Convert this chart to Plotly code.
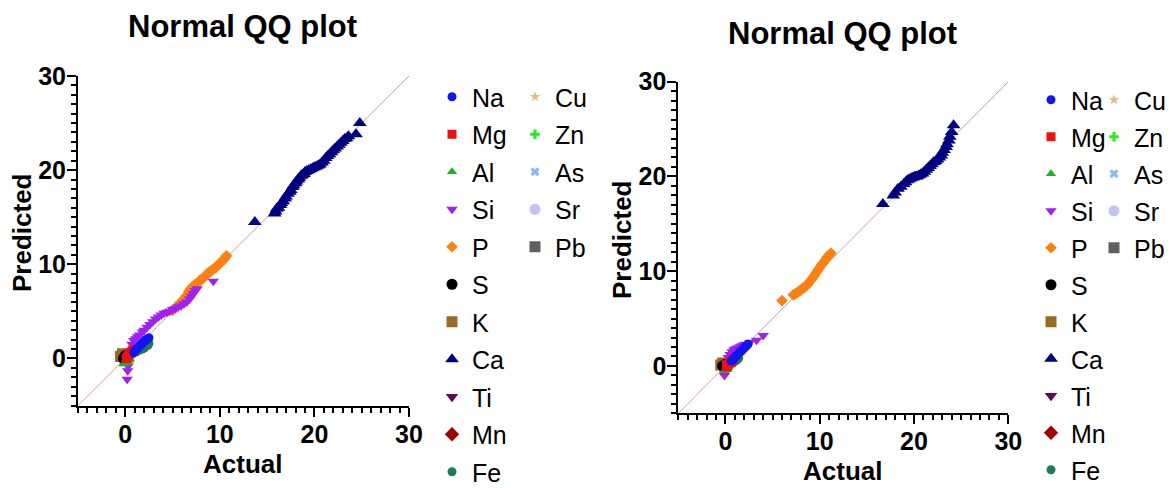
import plotly.graph_objects as go

# ---------------- element styling ----------------
ELEMENTS = ["Na", "Mg", "Al", "Si", "P", "S", "K", "Ca", "Ti", "Mn", "Fe",
            "Cu", "Zn", "As", "Sr", "Pb"]
COLORS = ["#1414ee", "#ee1111", "#22b022", "#a020f0", "#ff8010", "#000000",
          "#9a6a25", "#000080", "#5c0a5c", "#a00000", "#1f7a5a",
          "#e8b888", "#22ee22", "#88bbee", "#c4c4f4", "#606060"]
SYMBOLS = ["circle", "square", "triangle-up", "triangle-down", "diamond",
           "circle", "square", "triangle-up", "triangle-down", "diamond",
           "circle", "star", "cross", "x", "circle", "square"]
SIZES = [9, 9, 9, 10, 9, 11, 11, 12, 11, 11, 9, 8, 8, 8, 11, 11]

AXIS_MIN, AXIS_MAX = -5, 30
TICK_STEP = 10
TITLE_TEXT = "Normal QQ plot"
X_TITLE = "Actual"
Y_TITLE = "Predicted"

# ---------------- panel 1 (left) ----------------
na_act_1 = [0.9, 1.0, 1.1, 1.2, 1.3, 1.4, 1.5, 1.6, 1.7, 1.8, 1.9, 2.0, 2.1, 2.2, 2.3, 2.4, 2.5]
na_pred_1 = [0.6, 0.8, 0.9, 1.0, 1.1, 1.2, 1.3, 1.4, 1.5, 1.6, 1.7, 1.8, 1.9, 2.0, 2.0, 2.1, 2.2]
mg_act_1 = [0.1, 0.2, 0.3, 0.4, 0.5, 0.6, 0.7, 0.8]
mg_pred_1 = [0.0, 0.1, 0.3, 0.4, 0.5, 0.6, 0.8, 0.9]
al_act_1 = [-0.2, 0.0, 0.1, 0.2, 0.3, 0.4, 0.5]
al_pred_1 = [-0.6, -0.5, -0.4, -0.3, -0.4, -0.2, -0.1]
si_act_1 = [0.2, 0.25, 0.3, 0.5, 0.7, 0.9, 1.1, 1.3, 1.5, 1.8, 2.0, 2.3, 2.6, 2.9, 3.2, 3.5,
            3.8, 4.1, 4.4, 4.7, 5.0, 5.3, 5.6, 5.9, 6.2, 6.5, 6.8, 7.0, 7.2, 7.4, 7.6, 9.3]
si_pred_1 = [-2.2, -1.3, -0.8, 0.8, 1.5, 1.9, 2.1, 2.3, 2.5, 2.8, 3.0, 3.3, 3.6, 3.9, 4.2, 4.4,
             4.6, 4.8, 4.9, 5.0, 5.2, 5.3, 5.5, 5.6, 5.8, 6.0, 6.3, 6.6, 6.9, 7.2, 7.4, 8.2]
p_act_1 = [5.0, 5.4, 5.8, 6.1, 6.4, 6.7, 6.9, 7.1, 7.3, 7.5, 7.7, 7.9, 8.1, 8.3, 8.5, 8.7,
           8.9, 9.1, 9.3, 9.5, 9.7, 9.9, 10.1, 10.3, 10.5, 10.7]
p_pred_1 = [5.1, 5.5, 5.9, 6.2, 6.6, 7.1, 7.4, 7.6, 7.8, 7.9, 8.1, 8.3, 8.4, 8.6, 8.8, 9.0,
            9.2, 9.3, 9.5, 9.6, 9.8, 10.0, 10.2, 10.4, 10.6, 10.9]
s_act_1 = [-0.2, 0.0, 0.1]
s_pred_1 = [0.0, 0.3, 0.1]
k_act_1 = [-0.5, -0.3, -0.2, 0.0]
k_pred_1 = [0.2, 0.5, 0.4, 0.1]
ca_act_1 = [13.7, 15.8, 15.9, 16.0, 16.2, 16.4, 16.5, 16.7, 16.9, 17.0, 17.2, 17.4, 17.5, 17.7,
            17.8, 18.0, 18.1, 18.3, 18.4, 18.6, 18.7, 18.9, 19.0, 19.2, 19.4, 19.6, 19.8, 20.0,
            20.2, 20.4, 20.6, 20.8, 21.0, 21.2, 21.4, 21.6, 21.8, 22.0, 22.2, 22.4, 22.6, 22.8,
            23.0, 23.2, 23.4, 23.6, 24.4, 24.8]
ca_pred_1 = [14.5, 15.4, 15.6, 15.9, 16.0, 16.3, 16.5, 16.7, 17.0, 17.2, 17.5, 17.7, 17.9, 18.2,
             18.4, 18.6, 18.8, 19.0, 19.2, 19.4, 19.5, 19.6, 19.8, 19.9, 20.0, 20.1, 20.2, 20.3,
             20.4, 20.5, 20.6, 20.8, 21.0, 21.3, 21.5, 21.7, 21.9, 22.1, 22.3, 22.5, 22.7, 22.9,
             23.1, 23.3, 23.4, 23.6, 23.8, 25.0]
ti_act_1 = [0.0, 0.1]
ti_pred_1 = [0.1, 0.0]
mn_act_1 = [0.1, 0.0]
mn_pred_1 = [0.0, 0.1]
fe_act_1 = [1.2, 1.5, 1.8, 2.0, 2.2, 2.4, 2.5]
fe_pred_1 = [0.7, 0.9, 1.0, 1.1, 1.3, 1.4, 1.6]
cu_act_1 = [0.0, 0.05]
cu_pred_1 = [0.0, 0.05]
zn_act_1 = [0.05, 0.1]
zn_pred_1 = [0.05, 0.0]
as_act_1 = [0.0, 0.05]
as_pred_1 = [0.05, 0.0]
sr_act_1 = [0.0, 0.1]
sr_pred_1 = [0.1, 0.05]
pb_act_1 = [0.0, 0.05]
pb_pred_1 = [0.0, 0.05]

# ---------------- panel 2 (right) ----------------
na_act_2 = [0.6, 0.8, 0.9, 1.0, 1.1, 1.2, 1.3, 1.4, 1.5, 1.6, 1.7, 1.8, 1.9, 2.0, 2.1, 2.2, 2.3, 2.4]
na_pred_2 = [0.5, 0.6, 0.8, 0.9, 1.0, 1.1, 1.2, 1.3, 1.4, 1.5, 1.6, 1.7, 1.8, 1.9, 2.0, 2.1, 2.2, 2.3]
mg_act_2 = [0.1, 0.2, 0.3, 0.4, 0.5, 0.6, 0.7, 0.8]
mg_pred_2 = [-0.1, 0.1, 0.2, 0.3, 0.4, 0.5, 0.6, 0.7]
al_act_2 = [-0.1, 0.0, 0.1, 0.2, 0.3]
al_pred_2 = [-0.5, -0.4, -0.3, -0.4, -0.2]
si_act_2 = [-0.1, 0.1, 0.3, 0.5, 0.7, 0.9, 1.1, 1.3, 1.5, 1.7, 1.9, 2.1, 2.6, 3.3, 4.0]
si_pred_2 = [-1.0, 0.3, 0.9, 1.2, 1.5, 1.7, 1.8, 1.9, 2.0, 2.1, 2.2, 2.3, 2.5, 2.7, 3.2]
p_act_2 = [6.0, 7.2, 7.4, 7.6, 7.8, 8.0, 8.2, 8.4, 8.6, 8.8, 9.0, 9.2, 9.4, 9.6, 9.8, 10.0,
           10.2, 10.4, 10.6, 10.8, 11.0, 11.2]
p_pred_2 = [6.9, 7.5, 7.6, 7.7, 7.9, 8.0, 8.2, 8.3, 8.5, 8.7, 9.0, 9.2, 9.5, 9.8, 10.1, 10.4,
            10.7, 10.9, 11.2, 11.5, 11.7, 11.9]
s_act_2 = [-0.3, 0.0]
s_pred_2 = [0.0, 0.2]
k_act_2 = [-0.5, -0.3, -0.1]
k_pred_2 = [0.1, 0.3, 0.0]
ca_act_2 = [16.7, 17.8, 18.0, 18.3, 18.6, 18.9, 19.1, 19.3, 19.5, 19.7, 19.9, 20.1, 20.3, 20.5,
            20.7, 20.9, 21.1, 21.3, 21.5, 21.7, 21.9, 22.1, 22.3, 22.5, 22.7, 22.9, 23.0, 23.2,
            23.4, 23.5, 23.7, 23.8, 24.0, 24.2]
ca_pred_2 = [17.1, 18.0, 18.3, 18.7, 18.9, 19.2, 19.4, 19.6, 19.7, 19.8, 19.9, 20.0, 20.0, 20.1,
             20.2, 20.3, 20.5, 20.7, 20.9, 21.1, 21.3, 21.5, 21.6, 21.8, 22.0, 22.2, 22.5, 22.8,
             23.1, 23.4, 23.8, 24.2, 24.7, 25.4]
ti_act_2 = [0.0, 0.1]
ti_pred_2 = [0.1, 0.0]
mn_act_2 = [0.1, 0.0]
mn_pred_2 = [0.0, 0.1]
fe_act_2 = [0.8, 1.0, 1.2, 1.4]
fe_pred_2 = [0.3, 0.5, 0.6, 0.8]
cu_act_2 = [0.0, 0.05]
cu_pred_2 = [0.0, 0.05]
zn_act_2 = [0.05, 0.1]
zn_pred_2 = [0.05, 0.0]
as_act_2 = [0.0, 0.05]
as_pred_2 = [0.05, 0.0]
sr_act_2 = [0.0, 0.1]
sr_pred_2 = [0.1, 0.05]
pb_act_2 = [0.0, 0.05]
pb_pred_2 = [0.0, 0.05]

PANEL1 = [(na_act_1, na_pred_1), (mg_act_1, mg_pred_1), (al_act_1, al_pred_1),
          (si_act_1, si_pred_1), (p_act_1, p_pred_1), (s_act_1, s_pred_1),
          (k_act_1, k_pred_1), (ca_act_1, ca_pred_1), (ti_act_1, ti_pred_1),
          (mn_act_1, mn_pred_1), (fe_act_1, fe_pred_1), (cu_act_1, cu_pred_1),
          (zn_act_1, zn_pred_1), (as_act_1, as_pred_1), (sr_act_1, sr_pred_1),
          (pb_act_1, pb_pred_1)]
PANEL2 = [(na_act_2, na_pred_2), (mg_act_2, mg_pred_2), (al_act_2, al_pred_2),
          (si_act_2, si_pred_2), (p_act_2, p_pred_2), (s_act_2, s_pred_2),
          (k_act_2, k_pred_2), (ca_act_2, ca_pred_2), (ti_act_2, ti_pred_2),
          (mn_act_2, mn_pred_2), (fe_act_2, fe_pred_2), (cu_act_2, cu_pred_2),
          (zn_act_2, zn_pred_2), (as_act_2, as_pred_2), (sr_act_2, sr_pred_2),
          (pb_act_2, pb_pred_2)]

FONT = "Liberation Sans, Arial, Helvetica, sans-serif"
W, H = 1175, 488

fig = go.Figure()

panels = [
    dict(data=PANEL1, xa="x", ya="y", legends=("legend", "legend2")),
    dict(data=PANEL2, xa="x2", ya="y2", legends=("legend3", "legend4")),
]

for pi, pnl in enumerate(panels):
    # identity reference line
    fig.add_trace(go.Scatter(
        x=[AXIS_MIN, AXIS_MAX], y=[AXIS_MIN, AXIS_MAX], mode="lines",
        line=dict(color="#c48888", width=0.8), xaxis=pnl["xa"], yaxis=pnl["ya"],
        showlegend=False, hoverinfo="skip"))
    # draw in reverse so first elements lie on top
    for i in reversed(range(len(ELEMENTS))):
        act, pred = pnl["data"][i]
        fig.add_trace(go.Scatter(
            x=act, y=pred, mode="markers", name=ELEMENTS[i],
            marker=dict(symbol=SYMBOLS[i], color=COLORS[i], size=SIZES[i],
                        line=dict(width=0)),
            xaxis=pnl["xa"], yaxis=pnl["ya"],
            legend=pnl["legends"][0] if i < 11 else pnl["legends"][1],
            legendgroup=f"p{pi}-{ELEMENTS[i]}", legendrank=i + 1,
            showlegend=True))

def axis(domain, anchor):
    return dict(
        domain=domain, anchor=anchor, range=[AXIS_MIN, AXIS_MAX],
        tick0=0, dtick=TICK_STEP, ticks="outside", ticklen=9, tickwidth=2,
        tickcolor="black", showline=True, linewidth=2, linecolor="black",
        showgrid=False, zeroline=False, fixedrange=True, automargin=False,
        ticklabelstandoff=-4,
        tickfont=dict(family=FONT, size=25, color="black", weight="bold"),
        minor=dict(dtick=1, tick0=0, ticks="outside", ticklen=5, tickwidth=2,
                   tickcolor="black", showgrid=False))

def px_x(p):
    return p / W

def px_y(p):
    return 1 - p / H

legend_common = dict(xanchor="left", yanchor="top", bgcolor="rgba(0,0,0,0)",
                     borderwidth=0, orientation="v", tracegroupgap=2,
                     itemsizing="trace", maxheight=1.0,
                     font=dict(family=FONT, size=25, color="black"))

fig.update_layout(
    width=W, height=H, autosize=False,
    margin=dict(l=0, r=0, t=0, b=0, pad=0, autoexpand=False),
    paper_bgcolor="white", plot_bgcolor="white",
    xaxis=axis([px_x(78), px_x(409)], "y"),
    yaxis=axis([px_y(405.5), px_y(76)], "x"),
    xaxis2=axis([px_x(678.3), px_x(1008.3)], "y2"),
    yaxis2=axis([px_y(413.3), px_y(81.7)], "x2"),
    legend=dict(legend_common, x=px_x(432), y=px_y(74)),
    legend2=dict(legend_common, x=px_x(515), y=px_y(74)),
    legend3=dict(legend_common, x=px_x(1031), y=px_y(77), tracegroupgap=1.5),
    legend4=dict(legend_common, x=px_x(1094), y=px_y(77), tracegroupgap=1.5),
    showlegend=True,
)

def ann(text, x, y, size, angle=0):
    fig.add_annotation(text=text, x=px_x(x), y=px_y(y), xref="paper", yref="paper",
                       xanchor="center", yanchor="middle", showarrow=False,
                       textangle=angle,
                       font=dict(family=FONT, size=size, color="black", weight="bold"))

ann(TITLE_TEXT, 243, 27, 31)
ann(TITLE_TEXT, 843, 33, 31)
ann(Y_TITLE, 22, 233, 26, -90)
ann(Y_TITLE, 622, 240, 26, -90)
ann(X_TITLE, 243, 464, 26)
ann(X_TITLE, 843, 471, 26)

fig.write_html(
    "out.html",
    config={"displayModeBar": False},
    post_script="document.body.style.margin='0';document.body.style.padding='0';"
                "document.documentElement.style.overflow='hidden';",
)
